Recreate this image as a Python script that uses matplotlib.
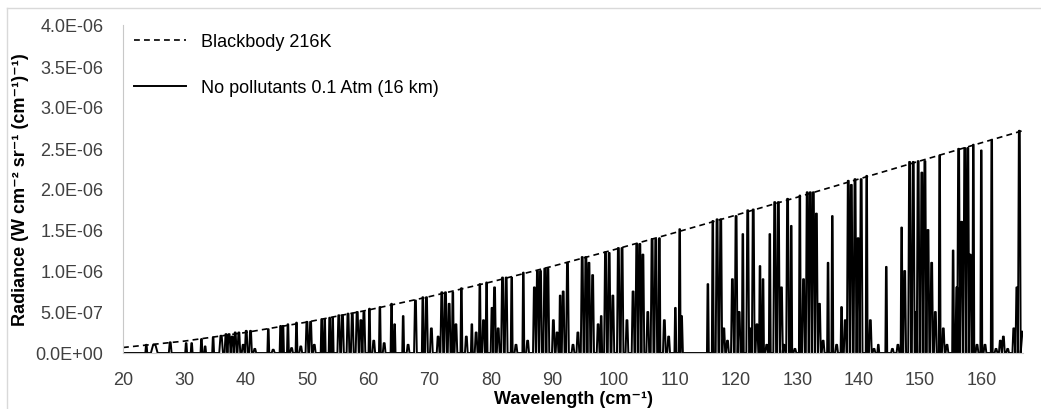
import numpy as np
import matplotlib
matplotlib.use('Agg')
import matplotlib.pyplot as plt
from matplotlib.lines import Line2D

plt.rcParams['font.family'] = ['Liberation Sans', 'DejaVu Sans']

# blackbody 216 K (radiance in 1e-6 W cm-2 sr-1 (cm-1)-1)
bb_wavenumber = [20, 30, 40, 50, 60, 70, 80, 90, 100, 110, 120, 130, 140, 150, 160, 166.7]
bb_radiance = [0.067, 0.145, 0.250, 0.377, 0.524, 0.688, 0.866, 1.057, 1.258, 1.467,
               1.682, 1.900, 2.121, 2.342, 2.563, 2.710]

# emission features of the 16 km spectrum: centre (cm-1), peak (1e-6), width (cm-1)
line_center = [23.8, 25.1, 27.7, 30.3, 31.2, 32.8, 33.4, 34.7, 36.0, 36.8, 37.3, 37.8, 38.3, 38.9,
               39.6, 40.1, 40.8, 41.5, 43.7, 44.5, 45.7, 46.1, 46.9, 47.5, 48.3, 49.0, 50.0, 50.6,
               51.2, 52.4, 52.9, 53.7, 54.2, 55.2, 55.8, 56.7, 57.4, 58.2, 58.8, 59.3, 60.2, 60.9,
               61.9, 62.6, 63.8, 64.3, 65.7, 66.5, 67.7, 68.9, 69.5, 70.3, 71.4, 72.0, 72.6, 73.2,
               73.8, 74.3, 75.2, 76.0, 76.9, 77.6, 78.2, 78.8, 79.3, 80.2, 80.6, 81.2, 81.9, 82.5,
               83.4, 84.1, 85.3, 86.0, 87.1, 87.6, 88.1, 88.8, 89.3, 90.2, 90.8, 91.3, 91.8, 92.5,
               93.4, 94.2, 94.9, 95.5, 96.0, 96.6, 97.5, 98.0, 98.7, 99.3, 99.9, 100.8, 101.4, 102.2,
               103.2, 103.8, 104.3, 104.8, 105.6, 106.3, 106.9, 107.5, 108.3, 109.0, 110.1, 110.8,
               111.1, 115.4, 116.2, 116.9, 117.5, 118.0, 118.6, 119.4, 120.0, 120.5, 121.1, 121.9,
               122.4, 122.8, 123.4, 123.9, 124.4, 125.0, 125.5, 126.3, 126.9, 127.4, 127.8, 128.4,
               129.0, 129.6, 130.4, 131.0, 131.6, 132.1, 132.6, 133.1, 133.6, 134.2, 135.0, 135.7,
               136.4, 137.2, 137.8, 138.3, 138.8, 139.4, 139.9, 140.4, 141.3, 141.9, 142.5, 143.2,
               144.5, 145.5, 146.4, 147.0, 147.5, 148.3, 148.9, 149.4, 149.7, 150.3, 150.8, 151.3,
               151.9, 152.5, 153.2, 153.8, 154.4, 155.4, 156.0, 156.3, 156.8, 157.3, 157.8, 158.2,
               158.7, 159.3, 160.0, 160.6, 161.7, 162.4, 163.1, 163.6, 164.3, 165.3, 165.8, 166.2]
line_peak = [0.10, 0.10, 0.13, 0.12, 0.12, 0.17, 0.08, 0.19, 0.21, 0.23, 0.23, 0.20, 0.25, 0.25,
             0.10, 0.27, 0.27, 0.05, 0.29, 0.04, 0.33, 0.33, 0.35, 0.06, 0.37, 0.08, 0.38, 0.38,
             0.10, 0.41, 0.41, 0.43, 0.43, 0.46, 0.46, 0.48, 0.48, 0.50, 0.40, 0.50, 0.54, 0.15,
             0.56, 0.12, 0.60, 0.35, 0.45, 0.10, 0.64, 0.68, 0.68, 0.30, 0.20, 0.74, 0.74, 0.60,
             0.74, 0.35, 0.79, 0.20, 0.35, 0.25, 0.84, 0.40, 0.86, 0.55, 0.80, 0.30, 0.92, 0.92,
             0.92, 0.10, 0.98, 0.15, 0.80, 1.00, 1.00, 1.03, 1.03, 0.40, 0.25, 0.70, 0.75, 1.10,
             0.10, 0.25, 1.17, 1.17, 1.10, 0.95, 0.35, 0.45, 1.23, 1.22, 0.70, 1.28, 1.28, 0.40,
             0.75, 1.33, 1.33, 1.20, 0.50, 1.39, 1.39, 1.40, 0.40, 0.20, 0.55, 1.51,
             0.45, 0.84, 1.61, 1.63, 1.63, 0.30, 0.15, 0.90, 1.67, 0.50, 1.45, 1.74,
             0.30, 1.75, 0.35, 1.06, 0.90, 0.10, 1.45, 1.84, 1.84, 0.80, 0.10, 1.88,
             1.55, 0.05, 1.92, 0.90, 1.96, 1.96, 1.96, 1.70, 0.60, 0.15, 1.10, 1.67,
             0.10, 0.56, 0.40, 2.10, 2.05, 2.12, 1.40, 2.12, 2.16, 0.40, 0.05, 0.10,
             1.05, 0.05, 0.10, 1.53, 1.00, 2.33, 2.33, 0.50, 2.34, 2.20, 2.34, 1.50,
             1.10, 0.50, 2.41, 0.30, 0.10, 1.25, 0.80, 2.49, 1.60, 2.50, 2.50, 1.20,
             2.54, 0.10, 2.47, 0.10, 2.60, 0.05, 0.15, 0.20, 0.05, 0.30, 0.80, 2.71]
line_width = [0.3, 1.1, 0.45, 0.3, 0.3, 0.3, 0.3, 0.3, 0.6, 0.45, 0.5, 0.45, 0.45, 0.45,
              0.45, 0.45, 0.45, 0.45, 0.3, 0.5, 0.3, 0.3, 0.3, 0.45, 0.3, 0.45, 0.45, 0.45,
              0.45, 0.3, 0.3, 0.3, 0.3, 0.45, 0.45, 0.45, 0.45, 0.5, 0.45, 0.45, 0.3, 0.45,
              0.3, 0.45, 0.3, 0.3, 0.3, 0.45, 0.45, 0.3, 0.45, 0.45, 0.45, 0.45, 0.45, 0.45,
              0.3, 0.45, 0.3, 0.45, 0.3, 0.45, 0.3, 0.45, 0.3, 0.45, 0.45, 0.45, 0.45, 0.45,
              0.3, 0.45, 0.3, 0.45, 0.45, 0.45, 0.45, 0.45, 0.45, 0.45, 0.45, 0.3, 0.45, 0.45,
              0.45, 0.45, 0.45, 0.45, 0.45, 0.45, 0.45, 0.3, 0.45, 0.45, 0.45, 0.45, 0.45, 0.45,
              0.45, 0.45, 0.45, 0.45, 0.45, 0.45, 0.45, 0.3, 0.45, 0.45, 0.3, 0.3,
              0.45, 0.3, 0.3, 0.45, 0.45, 0.45, 0.45, 0.45, 0.45, 0.45, 0.3, 0.45,
              0.3, 0.45, 0.45, 0.3, 0.3, 0.45, 0.3, 0.45, 0.45, 0.45, 0.45, 0.45,
              0.3, 0.45, 0.3, 0.45, 0.45, 0.45, 0.45, 0.45, 0.45, 0.45, 0.3, 0.3,
              0.45, 0.3, 0.45, 0.45, 0.45, 0.45, 0.45, 0.45, 0.3, 0.45, 0.45, 0.3,
              0.3, 0.45, 0.45, 0.3, 0.45, 0.45, 0.45, 0.3, 0.45, 0.45, 0.45, 0.45,
              0.45, 0.45, 0.3, 0.45, 0.45, 0.3, 0.45, 0.45, 0.45, 0.45, 0.45, 0.45,
              0.3, 0.45, 0.3, 0.45, 0.3, 0.45, 0.45, 0.45, 0.45, 0.45, 0.45, 0.45]
spectrum_end = (166.7, 0.26)

ytick_values = [0.0, 0.5, 1.0, 1.5, 2.0, 2.5, 3.0, 3.5, 4.0]
ytick_labels = ['0.0E+00', '5.0E-07', '1.0E-06', '1.5E-06', '2.0E-06',
                '2.5E-06', '3.0E-06', '3.5E-06', '4.0E-06']
xtick_values = list(range(20, 161, 10))

# piecewise trace through the features
spec_x = [20.0]
spec_y = [0.0]
for c, p, w in zip(line_center, line_peak, line_width):
    spec_x += [c - w / 2, c - w / 6, c + w / 6, c + w / 2]
    spec_y += [0.0, p, p, 0.0]
spec_x.append(spectrum_end[0])
spec_y.append(spectrum_end[1])
spec_x = np.array(spec_x)
spec_y = np.array(spec_y) * 1e-6

fig = plt.figure(figsize=(10.41, 4.10), dpi=100)
ax = fig.add_axes([123 / 1041, 56 / 410, 900 / 1041, 328 / 410])

ax.plot(bb_wavenumber, np.array(bb_radiance) * 1e-6, color='black', lw=1.2,
        dashes=(3.5, 2.5), label='Blackbody 216K')
ax.plot(spec_x, spec_y, color='black', lw=1.4, label='No pollutants 0.1 Atm (16 km)')

ax.set_xlim(20, 166.8)
ax.set_ylim(0, 4.0e-6)
ax.set_xticks(xtick_values)
ax.set_yticks(np.array(ytick_values) * 1e-6)
ax.set_yticklabels(ytick_labels)
ax.tick_params(length=0, labelsize=13, colors='#404040')
ax.tick_params(axis='y', pad=14)
ax.tick_params(axis='x', pad=13)
for s in ['top', 'right']:
    ax.spines[s].set_visible(False)
ax.spines['left'].set_color('#c8c8c8')
ax.spines['bottom'].set_color('#c8c8c8')

ax.set_xlabel('Wavelength (cm⁻¹)', fontsize=13, fontweight='bold', va='top')
ax.xaxis.set_label_coords(0.5, -0.112)
ax.set_ylabel('Radiance (W cm⁻² sr⁻¹ (cm⁻¹)⁻¹)', fontsize=13, fontweight='bold')
ax.yaxis.set_label_coords(-0.105, 0.5)

handles = [Line2D([], [], color='black', lw=1.2, dashes=(3.5, 2.5)),
           Line2D([], [], color='black', lw=1.4)]
ax.legend(handles, ['Blackbody 216K', 'No pollutants 0.1 Atm (16 km)'], loc='upper left',
          bbox_to_anchor=(0.012, 0.975), frameon=False, fontsize=13, borderpad=0,
          borderaxespad=0, handlelength=2.9, handletextpad=0.8, labelspacing=1.6)

# outer chart-area frame
fig.add_artist(Line2D([7 / 1041, 7 / 1041], [0, 1 - 9 / 410], color='#d9d9d9', lw=1.0))
fig.add_artist(Line2D([7 / 1041, 1], [1 - 9 / 410, 1 - 9 / 410], color='#d9d9d9', lw=1.0))

fig.savefig('out.png', dpi=100)
